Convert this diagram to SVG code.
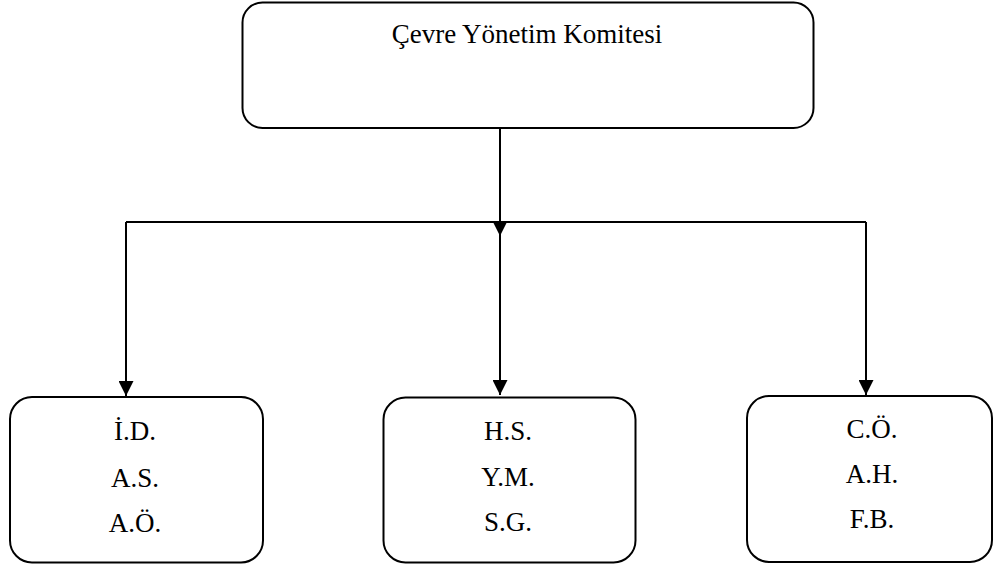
<svg xmlns="http://www.w3.org/2000/svg" width="993" height="564" viewBox="0 0 993 564">
  <style>
    .box { fill: #ffffff; stroke: #000000; stroke-width: 2; }
    .wire { fill: none; stroke: #000000; stroke-width: 2; }
    .label { font-family: "Liberation Serif", "Times New Roman", serif; font-size: 27px; fill: #000000; text-anchor: middle; }
  </style>
  <defs>
    <marker id="arrow" viewBox="0 0 15 15" refX="15" refY="7.5" markerWidth="15" markerHeight="15" markerUnits="userSpaceOnUse" orient="auto">
      <path d="M0,0 L15,7.5 L0,15 Z" fill="#000000"/>
    </marker>
  </defs>

  <rect width="993" height="564" fill="#ffffff"/>

  <g id="connectors">
    <line class="wire" x1="500" y1="128" x2="500" y2="236" marker-end="url(#arrow)"/>
    <polyline class="wire" points="126,222 866,222"/>
    <line class="wire" x1="126" y1="222" x2="126" y2="396" marker-end="url(#arrow)"/>
    <line class="wire" x1="500" y1="222" x2="500" y2="395" marker-end="url(#arrow)"/>
    <line class="wire" x1="866" y1="222" x2="866" y2="395" marker-end="url(#arrow)"/>
  </g>

  <g id="komite">
    <rect class="box" x="242.5" y="2.5" width="571" height="125.5" rx="20" ry="20"/>
    <text class="label" x="527" y="43">Çevre Yönetim Komitesi</text>
  </g>

  <g id="grup-sol">
    <rect class="box" x="10" y="397" width="253" height="165.5" rx="22" ry="22"/>
    <text class="label" x="135" y="440">İ.D.</text>
    <text class="label" x="135" y="487">A.S.</text>
    <text class="label" x="135" y="532">A.Ö.</text>
  </g>

  <g id="grup-orta">
    <rect class="box" x="383.5" y="397.5" width="252" height="165" rx="22" ry="22"/>
    <text class="label" x="508" y="440">H.S.</text>
    <text class="label" x="508" y="486">Y.M.</text>
    <text class="label" x="508" y="531">S.G.</text>
  </g>

  <g id="grup-sag">
    <rect class="box" x="747" y="396" width="245" height="166" rx="22" ry="22"/>
    <text class="label" x="872" y="438">C.Ö.</text>
    <text class="label" x="872" y="483">A.H.</text>
    <text class="label" x="872" y="528">F.B.</text>
  </g>
</svg>
